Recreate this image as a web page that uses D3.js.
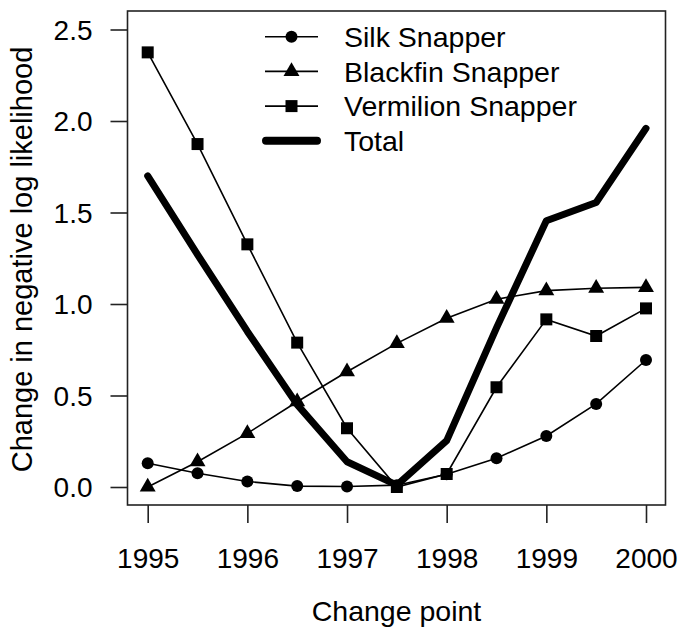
<!DOCTYPE html>
<html>
<head>
<meta charset="utf-8">
<script src="https://cdn.jsdelivr.net/npm/d3@7"></script>
<style>
  html, body { margin: 0; padding: 0; background: #fff; }
  svg { display: block; }
  text { font-family: "Liberation Sans", Arial, Helvetica, sans-serif; fill: #000; }
</style>
</head>
<body>
<svg id="chart" width="678" height="627"></svg>
<script>
// ---- data ----
const years = [1995, 1995.5, 1996, 1996.5, 1997, 1997.5, 1998, 1998.5, 1999, 1999.5, 2000];
const silk = [0.13, 0.075, 0.03, 0.005, 0.003, 0.01, 0.07, 0.157, 0.279, 0.454, 0.694];
const blackfin = [0.0, 0.138, 0.293, 0.466, 0.63, 0.785, 0.922, 1.026, 1.073, 1.086, 1.091];
const vermilion = [2.375, 1.874, 1.326, 0.789, 0.321, 0.0, 0.071, 0.545, 0.916, 0.825, 0.976];
const total = [1.70, 1.27, 0.85, 0.45, 0.138, 0.01, 0.253, 0.87, 1.455, 1.555, 1.96];
const xTicks = [1995, 1996, 1997, 1998, 1999, 2000];
const yTicks = [0.0, 0.5, 1.0, 1.5, 2.0, 2.5];
const seriesNames = ["Silk Snapper", "Blackfin Snapper", "Vermilion Snapper", "Total"];

// ---- layout ----
const box = { left: 127.5, top: 11, right: 665.5, bottom: 505 };
const svg = d3.select("#chart");

const x = d3.scaleLinear().domain([1995, 2000]).range([147.7, 646]);
const y = d3.scaleLinear().domain([0, 2.5]).range([487, 29.5]);

// box
svg.append("rect")
  .attr("x", box.left).attr("y", box.top)
  .attr("width", box.right - box.left).attr("height", box.bottom - box.top)
  .attr("fill", "none").attr("stroke", "#222").attr("stroke-width", 1.6);

// x axis
const xAxis = d3.axisBottom(x).tickValues(xTicks).tickSize(18).tickPadding(0).tickFormat(d3.format("d"));
const gx = svg.append("g").attr("transform", `translate(0,${box.bottom})`).call(xAxis);
gx.select(".domain").remove();
gx.selectAll(".tick line").attr("stroke", "#222").attr("stroke-width", 1.6);
gx.selectAll(".tick text")
  .attr("y", 63).attr("dy", null)
  .style("font-size", "28px").style("font-family", '"Liberation Sans", Arial, sans-serif').attr("fill", "#000");

// y axis
const yAxis = d3.axisLeft(y).tickValues(yTicks).tickSize(17).tickPadding(0).tickFormat(d3.format(".1f"));
const gy = svg.append("g").attr("transform", `translate(${box.left},0)`).call(yAxis);
gy.select(".domain").remove();
gy.selectAll(".tick line").attr("stroke", "#222").attr("stroke-width", 1.6);
gy.selectAll(".tick text")
  .attr("x", -35).attr("dy", "0.35em")
  .style("font-size", "28px").style("font-family", '"Liberation Sans", Arial, sans-serif').attr("fill", "#000");

// axis titles
svg.append("text")
  .attr("x", (box.left + box.right) / 2).attr("y", 621)
  .attr("text-anchor", "middle").style("font-size", "28.5px")
  .text("Change point");
svg.append("text")
  .attr("transform", `translate(32,259.5) rotate(-90)`)
  .attr("text-anchor", "middle").style("font-size", "29px")
  .text("Change in negative log likelihood");

// lines
const line = d3.line().x((d, i) => x(years[i])).y(d => y(d));
const thin = [silk, blackfin, vermilion];
thin.forEach(s => {
  svg.append("path").attr("d", line(s))
    .attr("fill", "none").attr("stroke", "#000").attr("stroke-width", 1.6);
});
svg.append("path").attr("d", line(total))
  .attr("fill", "none").attr("stroke", "#000").attr("stroke-width", 7)
  .attr("stroke-linejoin", "round").attr("stroke-linecap", "round");

// markers
const symbols = [
  d3.symbol().type(d3.symbolCircle).size(Math.PI * 6 * 6),
  d3.symbol().type(d3.symbolTriangle).size(110),
  d3.symbol().type(d3.symbolSquare).size(12 * 12)
];
thin.forEach((s, k) => {
  svg.append("g").selectAll("path").data(s).join("path")
    .attr("d", symbols[k]())
    .attr("transform", (d, i) => `translate(${x(years[i])},${y(d)})`)
    .attr("fill", "#000");
});

// legend
const legY = [36.7, 71.4, 106.1, 140.8];
const lg = svg.append("g");
seriesNames.forEach((name, k) => {
  const yy = legY[k];
  if (k < 3) {
    lg.append("line").attr("x1", 265).attr("x2", 318).attr("y1", yy).attr("y2", yy)
      .attr("stroke", "#000").attr("stroke-width", 1.6);
    lg.append("path").attr("d", symbols[k]()).attr("transform", `translate(291.5,${yy})`).attr("fill", "#000");
  } else {
    lg.append("line").attr("x1", 266).attr("x2", 317).attr("y1", yy).attr("y2", yy)
      .attr("stroke", "#000").attr("stroke-width", 8).attr("stroke-linecap", "round");
  }
  lg.append("text").attr("x", 344).attr("y", yy + 10.3)
    .style("font-size", "28.5px").text(name);
});
</script>
</body>
</html>
